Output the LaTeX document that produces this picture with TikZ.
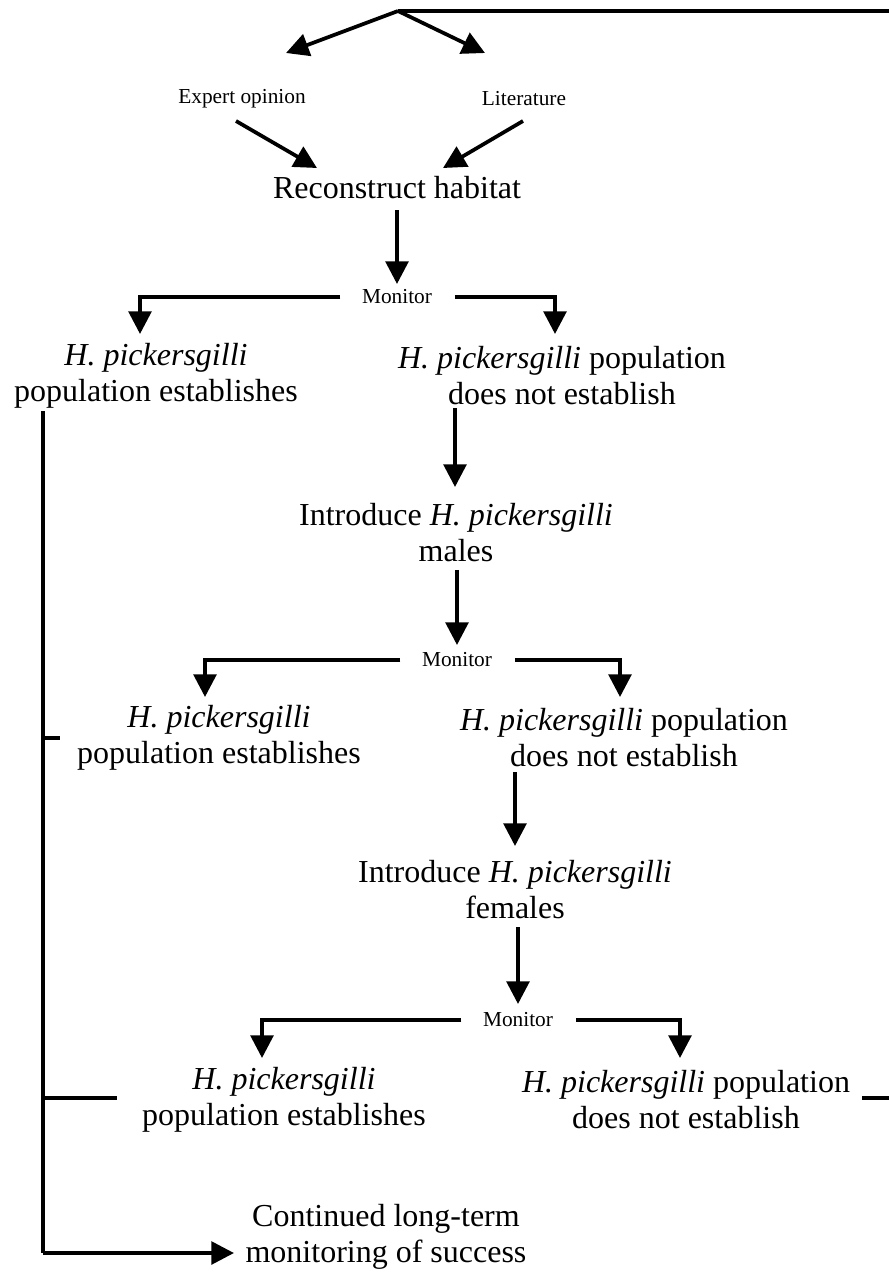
\documentclass[tikz,border=0pt]{standalone}
\usepackage{fontspec}
\setmainfont{Liberation Serif}
\usetikzlibrary{arrows.meta}
\begin{document}
\begin{tikzpicture}[x=0.75pt,y=-0.75pt,
  big/.style={inner sep=0pt,align=center,font=\fontsize{24}{27}\selectfont},
  small/.style={inner sep=0pt,font=\fontsize{16}{19}\selectfont},
  conn/.style={line width=2.8pt},
  arr/.style={conn,-{Triangle[length=17pt,width=17pt]}}]
\useasboundingbox (0,0) rectangle (889,1272);
% ---------- nodes ----------
\node[small] (exp) at (242,99) {Expert opinion};
\node[small] (lit) at (524,99) {Literature};
\node[big] (rec) at (397,188) {Reconstruct habitat};
\node[small] (m1) at (397,297) {Monitor};
\node[big] (pe1) at (156,376) {\textit{H. pickersgilli}\\population establishes};
\node[big] (ne1) at (562,376) {\textit{H. pickersgilli} population\\does not establish};
\node[big] (males) at (456,533) {Introduce \textit{H. pickersgilli}\\males};
\node[small] (m2) at (457,660) {Monitor};
\node[big] (pe2) at (219,738) {\textit{H. pickersgilli}\\population establishes};
\node[big] (ne2) at (624,738) {\textit{H. pickersgilli} population\\does not establish};
\node[big] (fem) at (515,890) {Introduce \textit{H. pickersgilli}\\females};
\node[small] (m3) at (518,1020) {Monitor};
\node[big] (pe3) at (284,1100) {\textit{H. pickersgilli}\\population establishes};
\node[big] (ne3) at (686,1100) {\textit{H. pickersgilli} population\\does not establish};
\node[big] (cont) at (386,1237) {Continued long-term\\monitoring of success};
% ---------- named points ----------
\coordinate (top) at (398,11);
\coordinate (topR) at (889,11);
\coordinate (expIn) at (286,53);
\coordinate (litIn) at (485,53);
\coordinate (expOut) at (236,121);
\coordinate (litOut) at (523,121);
\coordinate (recInL) at (317,168);
\coordinate (recInR) at (443,168);
\coordinate (recOut) at (397,210);
\coordinate (m1In) at (397,284);
\coordinate (m1Lc) at (140,297);
\coordinate (pe1In) at (140,334);
\coordinate (m1Rc) at (555,297);
\coordinate (ne1In) at (555,334);
\coordinate (ne1Out) at (455,408);
\coordinate (malesIn) at (455,487);
\coordinate (malesOut) at (457,570);
\coordinate (m2In) at (457,645);
\coordinate (m2Lc) at (205,660);
\coordinate (pe2In) at (205,697);
\coordinate (m2Rc) at (620,660);
\coordinate (ne2In) at (620,697);
\coordinate (ne2Out) at (515,772);
\coordinate (femIn) at (515,846);
\coordinate (femOut) at (518,927);
\coordinate (m3In) at (518,1004);
\coordinate (m3Lc) at (262,1020);
\coordinate (pe3In) at (262,1058);
\coordinate (m3Rc) at (680,1020);
\coordinate (ne3In) at (680,1058);
\coordinate (vTop) at (43,411);
\coordinate (vBot) at (43,1253);
\coordinate (t2) at (43,738);
\coordinate (t2e) at (60,738);
\coordinate (t3) at (43,1098);
\coordinate (t3e) at (117,1098);
\coordinate (contIn) at (234,1253);
\coordinate (fbA) at (862,1098);
\coordinate (fbB) at (889,1098);
% ---------- connectors ----------
\draw[conn] (top) -- (topR);
\draw[arr] (top) -- (expIn);
\draw[arr] (top) -- (litIn);
\draw[arr] (expOut) -- (recInL);
\draw[arr] (litOut) -- (recInR);
\draw[arr] (recOut) -- (m1In);
\draw[arr] ([xshift=-16pt]m1.west) -- (m1Lc) -- (pe1In);
\draw[arr] ([xshift=17pt]m1.east) -- (m1Rc) -- (ne1In);
\draw[arr] (ne1Out) -- (malesIn);
\draw[arr] (malesOut) -- (m2In);
\draw[arr] ([xshift=-16pt]m2.west) -- (m2Lc) -- (pe2In);
\draw[arr] ([xshift=17pt]m2.east) -- (m2Rc) -- (ne2In);
\draw[arr] (ne2Out) -- (femIn);
\draw[arr] (femOut) -- (m3In);
\draw[arr] ([xshift=-16pt]m3.west) -- (m3Lc) -- (pe3In);
\draw[arr] ([xshift=17pt]m3.east) -- (m3Rc) -- (ne3In);
\draw[conn] (vTop) -- (vBot);
\draw[arr] (vBot) -- (contIn);
\draw[conn] (t2) -- (t2e);
\draw[conn] (t3) -- (t3e);
\draw[conn] (fbA) -- (fbB);
\end{tikzpicture}
\end{document}
